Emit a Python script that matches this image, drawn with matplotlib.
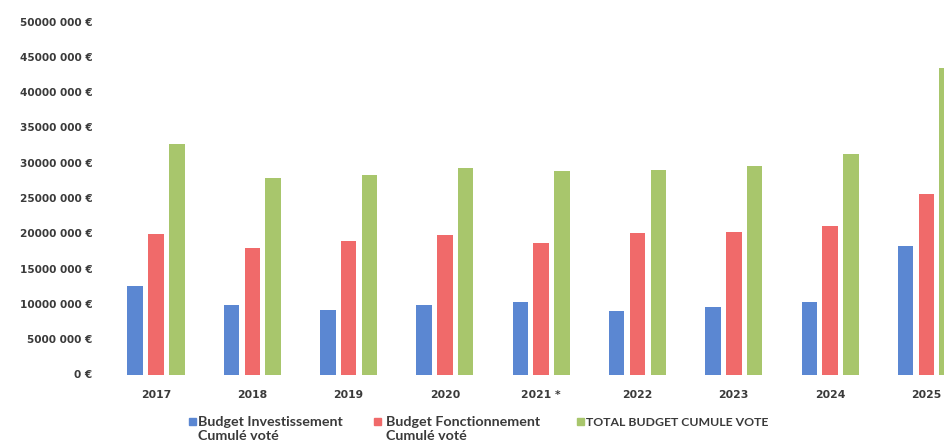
import matplotlib
matplotlib.use("Agg")
import matplotlib.pyplot as plt
from matplotlib.patches import Rectangle
import numpy as np

years = ["2017", "2018", "2019", "2020", "2021 *", "2022", "2023", "2024", "2025"]
invest = [12.5e6, 9.9e6, 9.2e6, 9.8e6, 10.2e6, 9.0e6, 9.6e6, 10.2e6, 18.2e6]
fonct = [19.9e6, 17.9e6, 18.9e6, 19.7e6, 18.6e6, 20.1e6, 20.2e6, 21.1e6, 25.5e6]
total = [32.6e6, 27.9e6, 28.2e6, 29.3e6, 28.8e6, 29.0e6, 29.6e6, 31.2e6, 43.4e6]
series_labels = ["Budget Investissement\nCumulé voté", "Budget Fonctionnement\nCumulé voté",
                 "TOTAL BUDGET CUMULE VOTE"]
yticks = [0, 5e6, 10e6, 15e6, 20e6, 25e6, 30e6, 35e6, 40e6, 45e6, 50e6]
ytick_labels = ["0 €", "5000 000 €", "10000 000 €", "15000 000 €", "20000 000 €",
                "25000 000 €", "30000 000 €", "35000 000 €", "40000 000 €",
                "45000 000 €", "50000 000 €"]

colors = ["#5B87D2", "#F06A6A", "#A8C66C"]
txt = "#3a3a3a"
tick_font = "DejaVu Sans"
leg_font = "Lato"

W, H = 945, 443
fig = plt.figure(figsize=(W / 100, H / 100), dpi=100)
spacing = 96.3
c0 = 156.0
left_px = 100.0
ax = fig.add_axes([left_px / W, (H - 374.5) / H, (W - left_px) / W, 353 / H])
ax.set_xlim((left_px - c0) / spacing, (W - c0) / spacing)
ax.set_ylim(0, 50e6)

x = np.arange(len(years))
bw = 15.5 / spacing
off = 20.8 / spacing
for i, (vals, col) in enumerate(zip([invest, fonct, total], colors)):
    ax.bar(x + (i - 1) * off, vals, width=bw, color=col, linewidth=0)

for s in ax.spines.values():
    s.set_visible(False)
ax.set_yticks(yticks)
ax.set_yticklabels(ytick_labels, fontfamily=tick_font, fontweight="bold", fontsize=7.6, color=txt)
ax.set_xticks(x)
ax.set_xticklabels(years, fontfamily=tick_font, fontweight="bold", fontsize=7.8, color=txt)
ax.tick_params(axis="y", length=0, pad=5.5)
ax.tick_params(axis="x", length=0, pad=11.5)

# legend (marker x, text x in pixels, font size)
leg_pos = [(193, 198, 10.3), (378, 386, 10.3), (580, 586, 8.8)]
for (mx, tx, fs), lab, col in zip(leg_pos, series_labels, colors):
    fig.patches.append(Rectangle(((mx - 3.5) / W, (H - 425) / H), 7 / W, 7 / H,
                                 transform=fig.transFigure, color=col, figure=fig))
    for k, line in enumerate(lab.split("\n")):
        fig.text(tx / W, (H - 426.5 - 13.3 * k) / H, line, ha="left", va="baseline",
                 fontfamily=leg_font, fontweight="bold", fontsize=fs, color=txt)

fig.savefig("out.png", dpi=100)
